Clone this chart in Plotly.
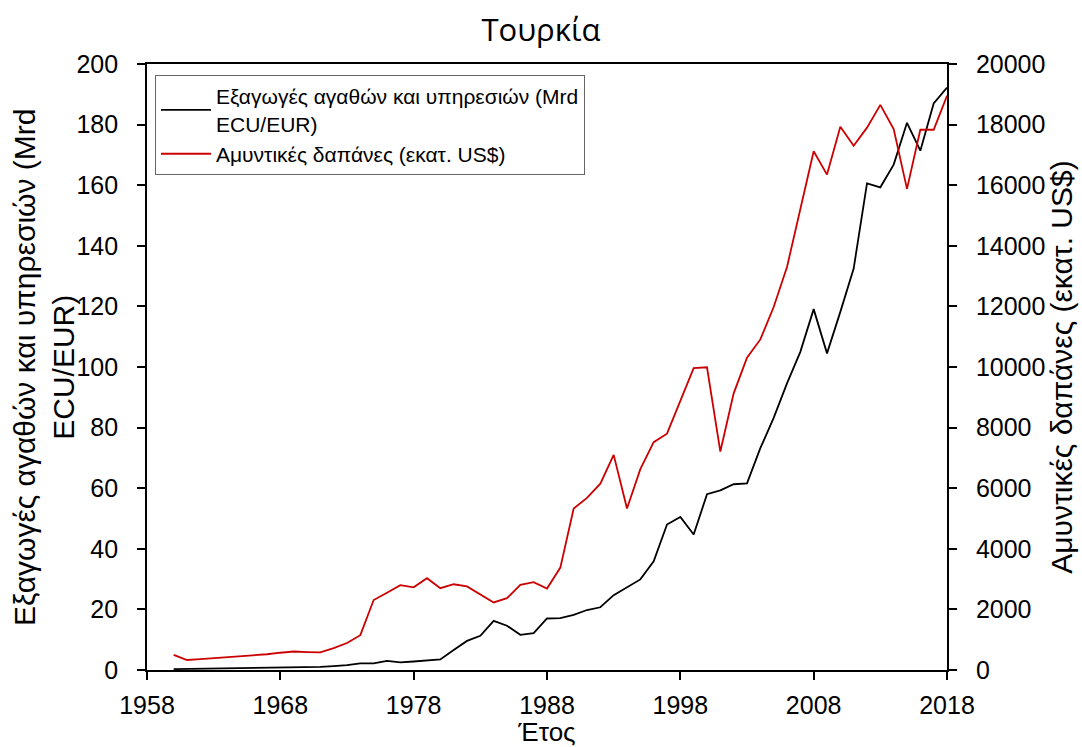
import plotly.graph_objects as go

years = list(range(1960, 2019))

exports = [0.3, 0.35, 0.4, 0.45, 0.5, 0.6, 0.65, 0.7, 0.8, 0.9,
           0.9, 1.0, 1.3, 1.6, 2.2, 2.2, 3.0, 2.5, 2.8, 3.2,
           3.5, 6.6, 9.6, 11.3, 16.2, 14.6, 11.6, 12.2, 17.0, 17.1,
           18.2, 19.8, 20.7, 24.7, 27.4, 29.9, 35.9, 48.0, 50.5, 44.7,
           58.0, 59.3, 61.3, 61.6, 73.2, 83.2, 94.6, 105.0, 119.1, 104.5,
           118.2, 132.5, 160.6, 159.3, 166.8, 180.6, 171.4, 187.0, 192.2]

defence = [500, 330, 360, 390, 420, 440, 470, 520, 570, 610,
           590, 580, 720, 890, 1150, 2310, 2550, 2800, 2730, 3030,
           2700, 2830, 2760, 2500, 2230, 2370, 2810, 2900, 2690, 3380,
           5330, 5680, 6150, 7100, 5330, 6630, 7520, 7800, 8900, 9960,
           9990, 7210, 9130, 10310, 10910, 11980, 13300, 15160, 17120, 16350,
           17930, 17300, 17900, 18650, 17850, 15880, 17830, 17830, 18950]

name_exports = "Εξαγωγές αγαθών και υπηρεσιών (Mrd<br>ECU/EUR)"
name_defence = "Αμυντικές δαπάνες (εκατ. US$)"
left_title = "Εξαγωγές αγαθών και υπηρεσιών (Mrd<br>ECU/EUR)"
right_title = "Αμυντικές δαπάνες (εκατ. US$)"
x_title = "Έτος"
chart_title = "Τουρκία"

x_ticks = [1958, 1968, 1978, 1988, 1998, 2008, 2018]

font_family = "Arial, Liberation Sans, sans-serif"

W, H = 1082, 747
ML, MR, MT, MB = 147, 135, 64, 77

fig = go.Figure()
fig.add_trace(go.Scatter(x=years, y=exports, name=name_exports, mode="lines",
                         line=dict(color="black", width=1.8)))
fig.add_trace(go.Scatter(x=years, y=defence, name=name_defence, mode="lines",
                         line=dict(color="#cc0000", width=1.8), yaxis="y2"))

axis_common = dict(showline=True, linecolor="black", linewidth=1.8,
                   ticks="outside", ticklen=8, tickwidth=1.8, tickcolor="black",
                   showgrid=False, zeroline=False, automargin=False,
                   tickfont=dict(size=25, color="black", family=font_family))

plot_w = W - ML - MR

fig.update_layout(
    width=W, height=H,
    margin=dict(l=ML, r=MR, t=MT, b=MB, autoexpand=False),
    paper_bgcolor="white", plot_bgcolor="white",
    font=dict(family=font_family, color="black"),
    title=dict(text=chart_title, x=0.5, xanchor="center", y=1 - 30 / H, yanchor="middle",
               font=dict(size=31, color="black", family="Open Sans, Noto Sans, sans-serif")),
    xaxis=dict(range=[1958, 2018], tickvals=x_ticks, mirror=True,
               ticklabelstandoff=4,
               title=dict(text=x_title, font=dict(size=26), standoff=14),
               **axis_common),
    yaxis=dict(range=[0, 200], dtick=20, ticklabelstandoff=14,
               **axis_common),
    yaxis2=dict(range=[0, 20000], dtick=2000, overlaying="y", side="right",
                tickformat="d", ticklabelstandoff=14,
                title=dict(text=right_title, font=dict(size=30), standoff=3),
                **axis_common),
    legend=dict(x=(155 - ML) / plot_w, y=1 - (75 - MT) / (H - MT - MB),
                xanchor="left", yanchor="top",
                bordercolor="#666666", borderwidth=1, bgcolor="white",
                font=dict(size=21, color="black", family=font_family),
                itemwidth=50, tracegroupgap=4),
    showlegend=True,
)

fig.add_annotation(text=left_title, textangle=-90, showarrow=False,
                   xref="paper", yref="paper",
                   x=(44 - ML) / plot_w, y=0.5, xanchor="center", yanchor="middle",
                   font=dict(size=30, color="black", family=font_family))

fig.write_html("out.html", config={"displayModeBar": False},
               post_script="document.body.style.margin='0';document.body.style.overflow='hidden';")
